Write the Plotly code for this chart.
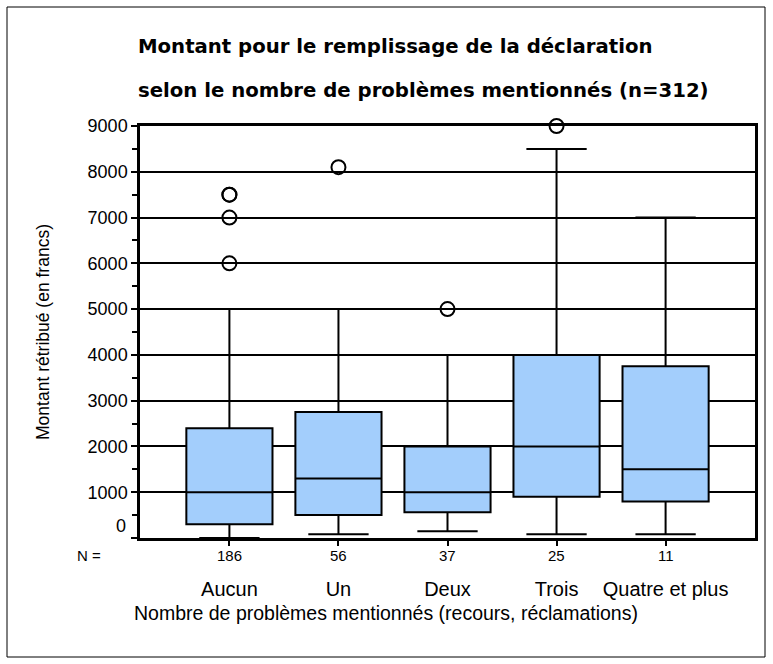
import plotly.graph_objects as go

# ---- data ----
categories = ["Aucun", "Un", "Deux", "Trois", "Quatre et plus"]
n_counts = [186, 56, 37, 25, 11]
lower_fence = [0, 80, 150, 80, 80]
q1 = [300, 500, 560, 900, 800]
median = [1000, 1300, 1000, 2000, 1500]
q3 = [2400, 2750, 2000, 4000, 3750]
upper_fence = [5000, 5000, 4000, 8500, 7000]
outlier_cat = ["Aucun", "Aucun", "Aucun", "Aucun", "Un", "Deux", "Trois"]
outlier_val = [6000, 7000, 7500, 7500, 8100, 5000, 9000]
y_ticks = [0, 1000, 2000, 3000, 4000, 5000, 6000, 7000, 8000, 9000]
y_ticktext = ["", "1000", "2000", "3000", "4000", "5000", "6000", "7000", "8000", "9000"]

W, H = 773, 664
L, R, T, B = 140, 18, 126, 126
pw, ph = W - L - R, H - T - B

def px_x(x):
    return (x - L) / pw

def px_y(y):
    return (H - B - y) / ph

font = "Liberation Sans, Arial, sans-serif"

fig = go.Figure()
fig.add_trace(go.Box(
    x=categories, q1=q1, median=median, q3=q3,
    lowerfence=lower_fence, upperfence=upper_fence,
    fillcolor="#a3cefc", line=dict(color="black", width=2),
    width=0.79, whiskerwidth=0.7, boxpoints=False, showlegend=False,
    hoverinfo="skip",
))
fig.add_trace(go.Scatter(
    x=outlier_cat, y=outlier_val, mode="markers", cliponaxis=False,
    marker=dict(symbol="circle-open", size=14, color="black",
                line=dict(color="black", width=2)),
    showlegend=False, hoverinfo="skip",
))

annotations = []
annotations.append(dict(x=px_x(89), y=px_y(555), xref="paper", yref="paper",
                        text="N =", showarrow=False, xanchor="center", yanchor="middle",
                        font=dict(family=font, size=15, color="black")))
for c, n in zip(categories, n_counts):
    annotations.append(dict(x=c, y=px_y(555), xref="x", yref="paper",
                            text=str(n), showarrow=False, xanchor="center", yanchor="middle",
                            font=dict(family=font, size=15, color="black")))
# "0" tick label drawn slightly above the axis, as in the reference
annotations.append(dict(x=px_x(128), y=0, xref="paper", yref="y", yshift=12,
                        text="0", showarrow=False, xanchor="right", yanchor="middle",
                        font=dict(family=font, size=18, color="black")))
annotations.append(dict(x=px_x(136), y=px_y(47), xref="paper", yref="paper",
                        text="<b>Montant pour le remplissage de la déclaration</b>",
                        showarrow=False, xanchor="left", yanchor="middle",
                        font=dict(family="DejaVu Sans, sans-serif", size=19.7, color="black")))
annotations.append(dict(x=px_x(136), y=px_y(90), xref="paper", yref="paper",
                        text="<b>selon le nombre de problèmes mentionnés (n=312)</b>",
                        showarrow=False, xanchor="left", yanchor="middle",
                        font=dict(family="DejaVu Sans, sans-serif", size=19.7, color="black")))
annotations.append(dict(x=px_x(386), y=px_y(613), xref="paper", yref="paper",
                        text="Nombre de problèmes mentionnés (recours, réclamations)",
                        showarrow=False, xanchor="center", yanchor="middle",
                        font=dict(family=font, size=19.5, color="black")))

fig.update_layout(
    width=W, height=H,
    margin=dict(l=L, r=R, t=T, b=B, pad=0),
    paper_bgcolor="white", plot_bgcolor="white",
    font=dict(family=font, color="black"),
    annotations=annotations,
    shapes=[dict(type="rect", xref="paper", yref="paper",
                 x0=px_x(7), x1=px_x(765), y0=px_y(657), y1=px_y(7),
                 line=dict(color="black", width=1))],
)
fig.update_xaxes(
    type="category", categoryorder="array", categoryarray=categories,
    range=[-0.82, len(categories) - 1 + 0.82],
    showgrid=False, zeroline=False,
    showline=True, linecolor="black", linewidth=2.5, mirror=True,
    ticks="outside", ticklen=5, tickcolor="black", tickwidth=1.5,
    ticklabelstandoff=26,
    tickfont=dict(family=font, size=20, color="black"),
)
fig.update_yaxes(
    range=[0, 9000], tickvals=y_ticks, ticktext=y_ticktext,
    showgrid=True, gridcolor="black", gridwidth=1.5, zeroline=False,
    showline=True, linecolor="black", linewidth=2.5, mirror=True,
    ticks="outside", ticklen=6, tickcolor="black", tickwidth=1.5,
    minor=dict(dtick=500, ticks="outside", ticklen=5, tickcolor="black",
               tickwidth=1.5, showgrid=False),
    tickfont=dict(family=font, size=18, color="black"),
    title=dict(text="Montant rétribué (en francs)", standoff=34,
               font=dict(family=font, size=17.5, color="black")),
)

fig.write_html("out.html", config={"displayModeBar": False},
               post_script="document.body.style.margin='0';")
